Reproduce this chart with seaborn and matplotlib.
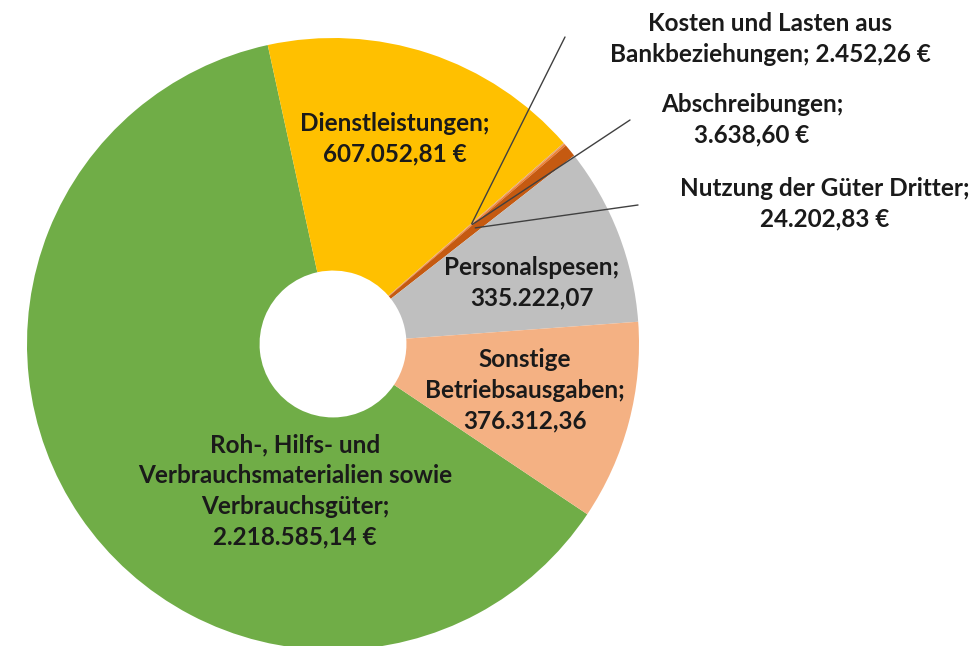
import numpy as np
import matplotlib
matplotlib.use("Agg")
import matplotlib.pyplot as plt
import seaborn as sns

## datos del grafico de anillo
categorias = [
    "Roh-, Hilfs- und\nVerbrauchsmaterialien sowie\nVerbrauchsgüter;",
    "Dienstleistungen;",
    "Kosten und Lasten aus\nBankbeziehungen;",
    "Abschreibungen;",
    "Nutzung der Güter Dritter;",
    "Personalspesen;",
    "Sonstige\nBetriebsausgaben;",
]
valores = [2218585.14, 607052.81, 2452.26, 3638.60, 24202.83, 335222.07, 376312.36]
con_euro = [True, True, True, True, True, False, False]
colores = ["#70AD47", "#FFC000", "#E3A36B", "#ED7D31", "#C55A11", "#BFBFBF", "#F4B183"]

sns.set_theme(style="white")
plt.rcParams["font.family"] = ["Lato", "DejaVu Sans"]


def formato_de(v):
    s = f"{v:,.2f}"
    return s.replace(",", "X").replace(".", ",").replace("X", ".")


def etiqueta(i):
    txt = formato_de(valores[i]) + (" €" if con_euro[i] else "")
    if i == 2:
        return categorias[i] + " " + txt
    return categorias[i] + "\n" + txt


## pixeles -> coordenadas del grafico (centro del anillo en 333,344 ; radio 306 px)
W, H = 978, 646
CX, CY, R = 333, 344, 306


def px(x, y):
    return (x - CX) / R, (CY - y) / R


fig = plt.figure(figsize=(W / 100, H / 100), dpi=100)
ax = fig.add_axes([0, 0, 1, 1])

wedges, _ = ax.pie(valores, colors=colores, startangle=-33.8, counterclock=False,
                   radius=1, wedgeprops=dict(width=0.76, linewidth=0))

## la pie cambia los limites, se ponen despues
ax.set_xlim(-CX / R, (W - CX) / R)
ax.set_ylim(-(H - CY) / R, CY / R)
ax.set_aspect("equal")
ax.axis("off")

## etiquetas dentro del anillo
pos_dentro = {0: (295, 491), 1: (395, 139), 5: (532, 283), 6: (525, 390)}
## etiquetas fuera con lineas guia
pos_fuera = {2: (770, 39), 3: (752, 120), 4: (825, 204)}
fin_linea = {2: (565, 37), 3: (630, 120), 4: (638, 205)}

estilo = dict(ha="center", va="center", fontsize=17.5, fontweight="bold",
              color="#1a1a1a", linespacing=1.4)

for i, (x, y) in pos_dentro.items():
    ax.text(*px(x, y), etiqueta(i), **estilo)

for i, (x, y) in pos_fuera.items():
    ax.text(*px(x, y), etiqueta(i), **estilo)
    w = wedges[i]
    ang = np.deg2rad((w.theta1 + w.theta2) / 2)
    x0, y0 = 0.6 * np.cos(ang), 0.6 * np.sin(ang)
    x1, y1 = px(*fin_linea[i])
    ax.plot([x0, x1], [y0, y1], color="#404040", lw=1)

fig.savefig("out.png", dpi=100)
